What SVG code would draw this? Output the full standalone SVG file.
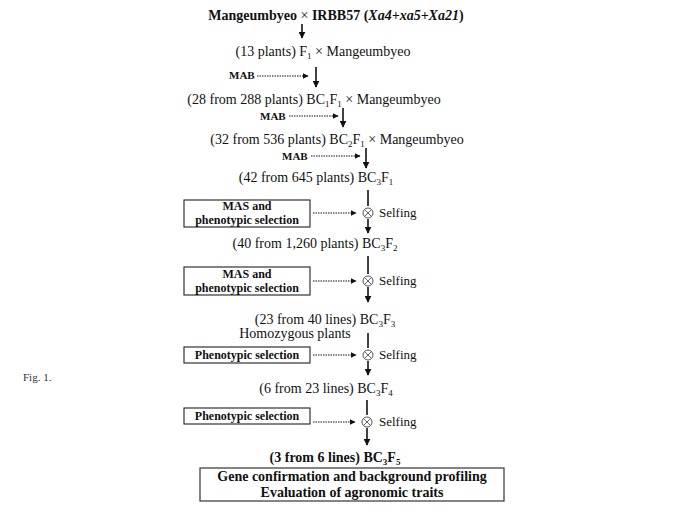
<svg xmlns="http://www.w3.org/2000/svg" width="682" height="512" viewBox="0 0 682 512">
<style>
  .t { font-family: "Liberation Serif", "Times New Roman", serif; font-size: 14px; fill: #111; text-anchor: middle; }
  .b { font-weight: bold; }
  .i { font-style: italic; }
  .s { font-family: "Liberation Serif", "Times New Roman", serif; font-size: 11px; font-weight: bold; fill: #111; }
  .lbl { font-family: "Liberation Serif", "Times New Roman", serif; font-size: 12px; font-weight: bold; fill: #111; text-anchor: middle; }
  .self { font-family: "Liberation Serif", "Times New Roman", serif; font-size: 13px; fill: #111; }
  .fig { font-family: "Liberation Serif", "Times New Roman", serif; font-size: 11px; fill: #333; }
  .box { fill: #fff; stroke: #333; stroke-width: 1.2; }
  .solid { stroke: #111; stroke-width: 1.6; fill: none; }
  .dot { stroke: #111; stroke-width: 1; stroke-dasharray: 1.5 1; fill: none; }
  .cross { fill: #fff; stroke: #555; stroke-width: 1; }
</style>
<defs>
  <marker id="ah" viewBox="0 0 10 10" refX="9" refY="5" markerWidth="6" markerHeight="6" markerUnits="userSpaceOnUse" orient="auto">
    <path d="M0,0 L10,5 L0,10 z" fill="#111"/>
  </marker>
  <marker id="ah2" viewBox="0 0 10 10" refX="9" refY="5" markerWidth="7" markerHeight="7" markerUnits="userSpaceOnUse" orient="auto">
    <path d="M0,0 L10,5 L0,10 z" fill="#111"/>
  </marker>
</defs>

<g id="n-title"><text class="t b" x="336" y="20">Mangeumbyeo <tspan font-weight="normal">×</tspan> IRBB57 (<tspan class="i">Xa4+xa5+Xa21</tspan>)</text></g>
<g id="n-f1"><text class="t" x="323" y="56">(13 plants) F<tspan font-size="9" dy="3">1</tspan><tspan dy="-3"> × Mangeumbyeo</tspan></text></g>
<g id="n-mab1"><text class="s" x="229" y="79">MAB</text></g>
<g id="n-bc1f1"><text class="t" x="314" y="104">(28 from 288 plants) BC<tspan font-size="9" dy="3">1</tspan><tspan dy="-3">F</tspan><tspan font-size="9" dy="3">1</tspan><tspan dy="-3"> × Mangeumbyeo</tspan></text></g>
<g id="n-mab2"><text class="s" x="260" y="120">MAB</text></g>
<g id="n-bc2f1"><text class="t" x="337" y="144">(32 from 536 plants) BC<tspan font-size="9" dy="3">2</tspan><tspan dy="-3">F</tspan><tspan font-size="9" dy="3">1</tspan><tspan dy="-3"> × Mangeumbyeo</tspan></text></g>
<g id="n-mab3"><text class="s" x="282" y="160">MAB</text></g>
<g id="n-bc3f1"><text class="t" x="316" y="182">(42 from 645 plants) BC<tspan font-size="9" dy="3">3</tspan><tspan dy="-3">F</tspan><tspan font-size="9" dy="3">1</tspan></text></g>

<g id="n-sel1">
  <rect class="box" x="184" y="200" width="126" height="27"/>
  <text class="lbl" x="247" y="210">MAS and</text>
  <text class="lbl" x="247" y="224">phenotypic selection</text>
</g>
<g id="n-self1">
  <circle class="cross" cx="368" cy="213" r="5"/>
  <path d="M364.5,209.5 L371.5,216.5 M371.5,209.5 L364.5,216.5" stroke="#555" stroke-width="0.9"/>
  <text class="self" x="379" y="217">Selfing</text>
</g>
<g id="n-bc3f2"><text class="t" x="315" y="248">(40 from 1,260 plants) BC<tspan font-size="9" dy="3">3</tspan><tspan dy="-3">F</tspan><tspan font-size="9" dy="3">2</tspan></text></g>

<g id="n-sel2">
  <rect class="box" x="184" y="267" width="126" height="28"/>
  <text class="lbl" x="247" y="278">MAS and</text>
  <text class="lbl" x="247" y="292">phenotypic selection</text>
</g>
<g id="n-self2">
  <circle class="cross" cx="368" cy="281" r="5"/>
  <path d="M364.5,277.5 L371.5,284.5 M371.5,277.5 L364.5,284.5" stroke="#555" stroke-width="0.9"/>
  <text class="self" x="379" y="285">Selfing</text>
</g>
<g id="n-bc3f3">
  <text class="t" x="325" y="324">(23 from 40 lines) BC<tspan font-size="9" dy="3">3</tspan><tspan dy="-3">F</tspan><tspan font-size="9" dy="3">3</tspan></text>
  <text class="t" x="295" y="338">Homozygous plants</text>
</g>

<g id="n-sel3">
  <rect class="box" x="184" y="347" width="126" height="16"/>
  <text class="lbl" x="247" y="359">Phenotypic selection</text>
</g>
<g id="n-self3">
  <circle class="cross" cx="368" cy="355" r="5"/>
  <path d="M364.5,351.5 L371.5,358.5 M371.5,351.5 L364.5,358.5" stroke="#555" stroke-width="0.9"/>
  <text class="self" x="379" y="359">Selfing</text>
</g>
<g id="n-bc3f4"><text class="t" x="326" y="393">(6 from 23 lines) BC<tspan font-size="9" dy="3">3</tspan><tspan dy="-3">F</tspan><tspan font-size="9" dy="3">4</tspan></text></g>

<g id="n-sel4">
  <rect class="box" x="184" y="408" width="126" height="16"/>
  <text class="lbl" x="247" y="420">Phenotypic selection</text>
</g>
<g id="n-self4">
  <circle class="cross" cx="367" cy="422" r="5"/>
  <path d="M363.5,418.5 L370.5,425.5 M370.5,418.5 L363.5,425.5" stroke="#555" stroke-width="0.9"/>
  <text class="self" x="379" y="426">Selfing</text>
</g>
<g id="n-bc3f5"><text class="t b" x="335" y="462">(3 from 6 lines) BC<tspan font-size="9" dy="3">3</tspan><tspan dy="-3">F</tspan><tspan font-size="9" dy="3">5</tspan></text></g>

<g id="n-final">
  <rect class="box" x="200" y="468" width="304" height="33"/>
  <text class="t b" x="352" y="481" font-size="14.5">Gene confirmation and background profiling</text>
  <text class="t b" x="352" y="497" font-size="14.5">Evaluation of agronomic traits</text>
</g>

<g id="n-fig"><text class="fig" x="23" y="381">Fig. 1.</text></g>

<g id="connectors">
  <line class="solid" x1="302" y1="24" x2="302" y2="38" marker-end="url(#ah2)"/>
  <line class="dot" x1="257" y1="76" x2="308" y2="76" marker-end="url(#ah)"/>
  <line class="solid" x1="316" y1="67" x2="316" y2="87" marker-end="url(#ah2)"/>
  <line class="dot" x1="289" y1="116" x2="338" y2="116" marker-end="url(#ah)"/>
  <line class="solid" x1="343" y1="108" x2="343" y2="127" marker-end="url(#ah2)"/>
  <line class="dot" x1="311" y1="156" x2="360" y2="156" marker-end="url(#ah)"/>
  <line class="solid" x1="366" y1="148" x2="366" y2="168" marker-end="url(#ah2)"/>

  <line class="solid" x1="368" y1="190" x2="368" y2="206"/>
  <line class="dot" x1="313" y1="213" x2="356" y2="213" marker-end="url(#ah)"/>
  <line class="solid" x1="368" y1="219" x2="368" y2="233" marker-end="url(#ah2)"/>

  <line class="solid" x1="368" y1="256" x2="368" y2="274"/>
  <line class="dot" x1="313" y1="281" x2="356" y2="281" marker-end="url(#ah)"/>
  <line class="solid" x1="368" y1="287" x2="368" y2="302" marker-end="url(#ah2)"/>

  <line class="solid" x1="368" y1="333" x2="368" y2="348"/>
  <line class="dot" x1="313" y1="355" x2="356" y2="355" marker-end="url(#ah)"/>
  <line class="solid" x1="368" y1="361" x2="368" y2="375" marker-end="url(#ah2)"/>

  <line class="solid" x1="367" y1="400" x2="367" y2="415"/>
  <line class="dot" x1="313" y1="422" x2="355" y2="422" marker-end="url(#ah)"/>
  <line class="solid" x1="367" y1="428" x2="367" y2="445" marker-end="url(#ah2)"/>
</g>
</svg>
